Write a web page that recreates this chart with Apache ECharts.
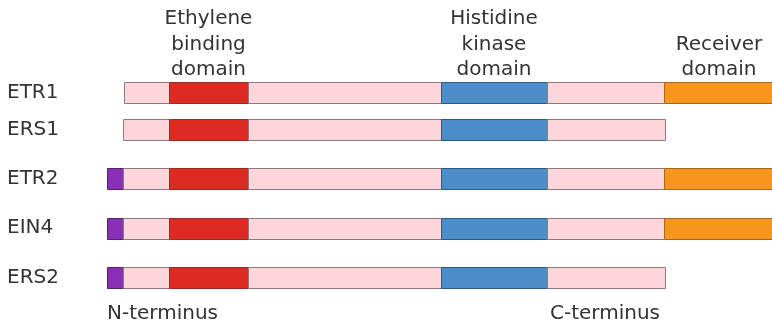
<!DOCTYPE html>
<html>
<head>
<meta charset="utf-8">
<script src="https://cdn.jsdelivr.net/npm/echarts@6/dist/echarts.min.js"></script>
<style>
  html, body { margin: 0; padding: 0; background: #fff; }
  #chart { width: 772px; height: 328px; }
</style>
</head>
<body>
<div id="chart"></div>
<script>
// receptor names and their row positions (ETR1/ERS1 sit closer together)
var proteins = ['ETR1', 'ERS1', 'ETR2', 'EIN4', 'ERS2'];
var rowPos = [0, 0.75, 1.75, 2.75, 3.75];

// segments per protein: [start, end, kind]
var etr1Segs = [[17, 62, 'pink'], [62, 141, 'red'], [141, 334, 'pink'], [334, 440, 'blue'], [440, 557, 'pink'], [557, 672, 'orange']];
var ers1Segs = [[16, 62, 'pink'], [62, 141, 'red'], [141, 334, 'pink'], [334, 440, 'blue'], [440, 558, 'pink']];
var etr2Segs = [[0, 16, 'purple'], [16, 62, 'pink'], [62, 141, 'red'], [141, 334, 'pink'], [334, 440, 'blue'], [440, 557, 'pink'], [557, 672, 'orange']];
var ein4Segs = [[0, 16, 'purple'], [16, 62, 'pink'], [62, 141, 'red'], [141, 334, 'pink'], [334, 440, 'blue'], [440, 557, 'pink'], [557, 672, 'orange']];
var ers2Segs = [[0, 16, 'purple'], [16, 62, 'pink'], [62, 141, 'red'], [141, 334, 'pink'], [334, 440, 'blue'], [440, 558, 'pink']];
var allSegs = [etr1Segs, ers1Segs, etr2Segs, ein4Segs, ers2Segs];

// domain headings [x, y, text]
var domainLabels = [
  [101.5, -0.2, 'Ethylene\nbinding\ndomain'],
  [387, -0.2, 'Histidine\nkinase\ndomain'],
  [612, -0.2, 'Receiver\ndomain']
];
var termLabels = [[55.5, 4.48, 'N-terminus'], [498, 4.48, 'C-terminus']];

var fills = {
  pink: '#fdd6d9', red: '#de2b22', blue: '#4b8dc9', orange: '#f6961c', purple: '#8a30b8'
};
var strokes = {
  pink: '#8c7b7d', red: '#9c2a24', blue: '#2a5a86', orange: '#a8681e', purple: '#4e2468'
};

var barData = [];
allSegs.forEach(function (segs, i) {
  segs.forEach(function (s) {
    barData.push([s[0], s[1], rowPos[i], s[2]]);
  });
});

var textData = [];
proteins.forEach(function (p, i) { textData.push([-100, rowPos[i], p, 'left']); });
domainLabels.forEach(function (d) { textData.push([d[0], d[1], d[2], 'domain']); });
termLabels.forEach(function (d) { textData.push([d[0], d[1], d[2], 'term']); });

var chart = echarts.init(document.getElementById('chart'));
chart.setOption({
  animation: false,
  grid: { left: 107, right: 0, top: 18.5, bottom: 13.5 },
  xAxis: { type: 'value', min: 0, max: 665, show: false },
  yAxis: { type: 'value', min: -1.5, max: 4.5, inverse: true, show: false },
  series: [
    {
      type: 'custom',
      clip: true,
      data: barData,
      renderItem: function (params, api) {
        var kind = barData[params.dataIndex][3];
        var p0 = api.coord([api.value(0), api.value(2)]);
        var p1 = api.coord([api.value(1), api.value(2)]);
        return {
          type: 'rect',
          shape: { x: Math.round(p0[0]) + 0.5, y: Math.round(p0[1] - 10.5) + 0.5, width: Math.round(p1[0] - p0[0]), height: 21 },
          style: { fill: fills[kind], stroke: strokes[kind], lineWidth: 1 }
        };
      }
    },
    {
      type: 'custom',
      clip: false,
      data: textData,
      renderItem: function (params, api) {
        var d = textData[params.dataIndex];
        var p = api.coord([d[0], d[1]]);
        var isDomain = d[3] === 'domain';
        return {
          type: 'text',
          x: p[0],
          y: p[1],
          style: {
            text: d[2],
            fill: '#333333',
            font: '20px "DejaVu Sans"',
            lineHeight: 25.5,
            align: d[3] === 'left' ? 'left' : 'center',
            verticalAlign: isDomain ? 'bottom' : 'middle'
          }
        };
      }
    }
  ]
});
</script>
</body>
</html>
